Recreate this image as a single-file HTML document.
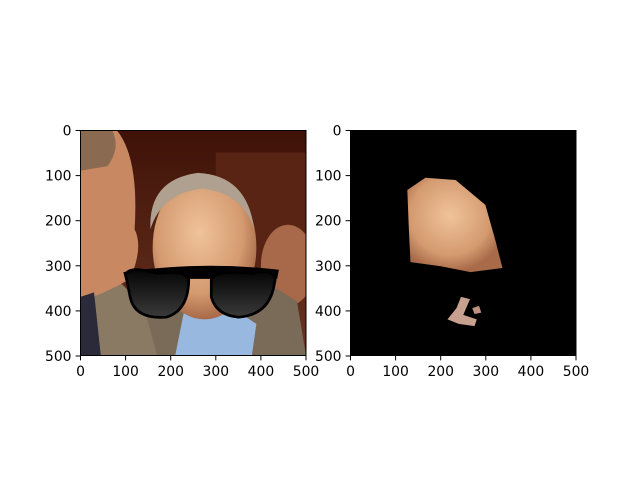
<!DOCTYPE html>
<html><head><meta charset="utf-8"><style>
body{margin:0;background:#fff;width:640px;height:480px;overflow:hidden}
svg text{font-family:"DejaVu Sans","Liberation Sans",sans-serif;font-size:13.9px;fill:#000}
</style></head><body>
<svg width="640" height="480">
<defs>
<radialGradient id="face" cx="0.45" cy="0.4" r="0.6"><stop offset="0" stop-color="#f0c39a"/><stop offset="0.7" stop-color="#d49a70"/><stop offset="1" stop-color="#a86a48"/></radialGradient>
<linearGradient id="lens" x1="0" y1="0" x2="0" y2="1"><stop offset="0" stop-color="#050505"/><stop offset="1" stop-color="#3a3a3a"/></linearGradient>
<linearGradient id="bg" x1="0" y1="0" x2="0" y2="1"><stop offset="0" stop-color="#3f1208"/><stop offset="1" stop-color="#6a3420"/></linearGradient>
<clipPath id="c1"><rect x="0" y="0" width="500" height="500"/></clipPath>
</defs>
<g id="left" transform="translate(80.5,130) scale(0.451)">
 <g clip-path="url(#c1)">
  <rect width="500" height="500" fill="url(#bg)"/>
  <rect x="300" y="50" width="200" height="250" fill="#5a2414"/>
  <ellipse cx="460" cy="300" rx="60" ry="90" fill="#a8684a"/>
  <path d="M170 500 L120 380 L200 330 L400 330 L480 380 L500 500Z" fill="#7a6a58"/>
  <path d="M0 360 L80 330 L140 390 L170 500 L0 500Z" fill="#8a7a64"/>
  <path d="M210 500 L230 400 L330 390 L390 430 L380 500Z" fill="#98b8e0"/>
  <ellipse cx="275" cy="260" rx="115" ry="160" fill="url(#face)"/>
  <path d="M155 220 Q150 110 260 95 Q370 100 385 220 Q360 140 270 130 Q180 140 155 220Z" fill="#b0a090"/>
  <path d="M0 0 L80 0 Q130 60 120 220 Q140 260 110 330 Q60 360 0 380Z" fill="#c88862"/>
  <path d="M0 0 L70 0 Q90 40 60 80 L0 90Z" fill="#8a6a50"/>
  <path d="M0 370 L30 360 L45 500 L0 500Z" fill="#2a2a3a"/>
 </g>
 <g>
  <path d="M95 315 Q270 290 440 310 L436 330 L380 330 L300 330 L240 330 L160 330 L100 335Z" fill="#000"/>
  <path d="M100 320 Q110 300 170 318 Q230 310 240 330 Q240 400 190 415 Q120 420 110 370Z" fill="url(#lens)" stroke="#000" stroke-width="6"/>
  <path d="M290 330 Q300 310 380 318 Q440 305 430 340 Q420 410 350 415 Q300 410 290 370Z" fill="url(#lens)" stroke="#000" stroke-width="6"/>
 </g>
</g>
<g transform="translate(350.5,130) scale(0.451)">
 <rect width="500" height="500" fill="#000"/>
 <path d="M126 133 L166 106 L233 111 L299 166 L321 244 L337 306 L266 315 L200 302 L133 293 L129 211Z" fill="url(#face)"/>
 <path d="M245 370 L265 375 L250 410 L280 420 L275 435 L240 430 L215 420 L235 395Z" fill="#c8a090"/>
 <path d="M270 395 L285 390 L290 405 L275 408Z" fill="#c09080"/>
</g>
<g stroke="#000" stroke-width="1" fill="none">
 <rect x="80.5" y="130.5" width="225.5" height="225"/>
 <rect x="350.5" y="130.5" width="225.5" height="225"/>
</g>
<g id="ticks"></g>
<script>
const tickValues=[0,100,200,300,400,500];
const tickLabels=["0","100","200","300","400","500"];
const axesX=[80.5,350.5];
const g=document.getElementById('ticks');
const ns='http://www.w3.org/2000/svg';
function sx(v,o){return o+v*0.451;}
function sy(v){return 130.5+v*0.451;}
axesX.forEach(function(o){
 tickValues.forEach(function(v,i){
  let l=document.createElementNS(ns,'line');
  l.setAttribute('x1',sx(v,o));l.setAttribute('x2',sx(v,o));l.setAttribute('y1',355.5);l.setAttribute('y2',360.4);l.setAttribute('stroke','#000');
  
  
  g.appendChild(l);
  let t=document.createElementNS(ns,'text');
  t.setAttribute('x',sx(v,o));t.setAttribute('y',376);t.setAttribute('text-anchor','middle');t.textContent=tickLabels[i];
  
  
  g.appendChild(t);
  let l2=document.createElementNS(ns,'line');
  l2.setAttribute('x1',o-4.9);l2.setAttribute('x2',o);l2.setAttribute('y1',sy(v));l2.setAttribute('y2',sy(v));l2.setAttribute('stroke','#000');
  
  
  g.appendChild(l2);
  let t2=document.createElementNS(ns,'text');
  t2.setAttribute('x',o-9);t2.setAttribute('y',sy(v)+5);t2.setAttribute('text-anchor','end');t2.textContent=tickLabels[i];
  
  
  g.appendChild(t2);
 });
});
</script>
</svg>
</body></html>
